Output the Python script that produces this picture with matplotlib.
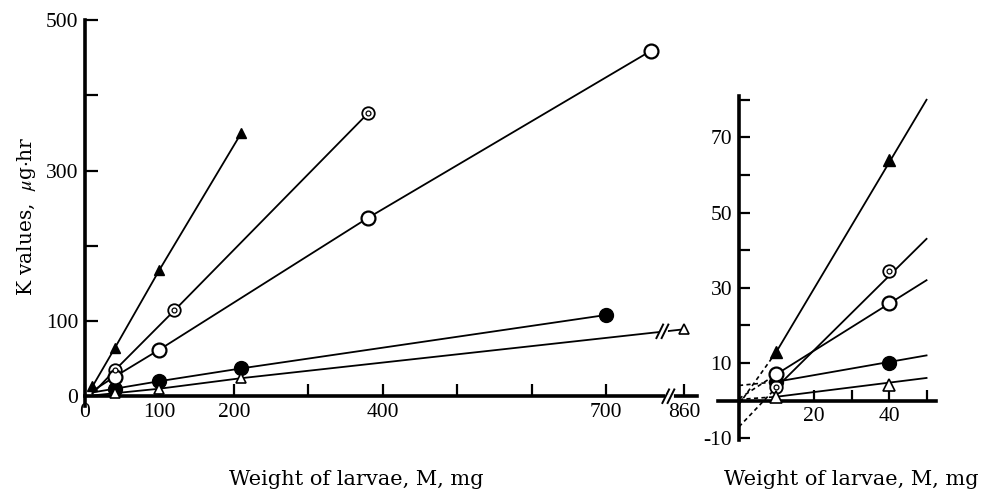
import numpy as np
import matplotlib
matplotlib.use("Agg")
import matplotlib.pyplot as plt

plt.rcParams['font.family'] = 'serif'
plt.rcParams['font.serif'] = ['Liberation Serif', 'DejaVu Serif']
plt.rcParams['mathtext.fontset'] = 'stix'

# K values (ug*hr) against larval weight M (mg)
tri_f_x = [10, 40, 100, 210]
tri_f_y = [13, 64, 168, 350]
dcirc_x = [10, 40, 120, 380]
dcirc_y = [3.5, 34.5, 114, 376]
ocirc_x = [10, 40, 100, 380, 760]
ocirc_y = [7, 26, 62, 237, 459]
fcirc_x = [10, 40, 100, 210, 700]
fcirc_y = [5, 10, 20, 37, 108]
tri_o_x = [10, 40, 100, 210, 860]
tri_o_y = [1, 4, 10, 24, 89]

# right panel: fitted lines drawn on to M = 50, dashed back to M = 0
ext_x = 50
ext_y = [80, 43, 32, 12, 6]          # tri_f, dcirc, ocirc, fcirc, tri_o
icpt_y = [-1, -7, 0.5, 4, 0.3]      # value where the dashed lines meet M = 0

left_xticks = [0, 100, 200, 300, 400, 500, 600, 700, 860]
left_xlabels = ['0', '100', '200', '', '400', '', '', '700', '860']
left_yticks = [0, 100, 200, 300, 400, 500]
left_ylabels = ['0', '100', '', '300', '', '500']
right_xticks = [10, 20, 30, 40, 50]
right_xlabels = ['', '20', '', '40', '']
right_yticks = [-10, 10, 20, 30, 40, 50, 60, 70, 80]
right_ylabels = ['-10', '10', '', '30', '', '50', '', '70', '']

BREAK = 780
SQUEEZE = 0.3125


def bx(x):
    # compress the x axis after the break
    x = np.asarray(x, dtype=float)
    return np.where(x > BREAK, BREAK + (x - BREAK) * SQUEEZE, x)


fig = plt.figure(figsize=(9.98, 4.92), dpi=100)
ax1 = fig.add_axes([0.0852, 0.1748, 0.6132, 0.7845])
ax2 = fig.add_axes([0.7194, 0.1057, 0.2184, 0.6992])

series = [
    (tri_f_x, tri_f_y, dict(marker='^', ms=7, mfc='black', mec='black')),
    (dcirc_x, dcirc_y, dict(marker='o', ms=9, mfc='white', mec='black', mew=1.3)),
    (ocirc_x, ocirc_y, dict(marker='o', ms=10, mfc='white', mec='black', mew=1.6)),
    (fcirc_x, fcirc_y, dict(marker='o', ms=10, mfc='black', mec='black')),
    (tri_o_x, tri_o_y, dict(marker='^', ms=7, mfc='white', mec='black', mew=1.2)),
]

# ---- left panel ----
for i, (xs, ys, mk) in enumerate(series):
    ax1.plot(bx(xs), ys, color='black', lw=1.3, zorder=2)
for i, (xs, ys, mk) in enumerate(series):
    z = 4 if mk['mfc'] == 'white' else 3
    # near the origin the marks are tiny; only the filled triangle shows
    start = 0 if i == 0 else 1
    ax1.plot(bx(xs[start:]), ys[start:], ls='none', zorder=z,
             clip_on=False, **mk)
    if i == 1:
        ax1.plot(bx(xs[start:]), ys[start:], ls='none', marker='o', ms=3.5,
                 mfc='white', mec='black', mew=0.9, zorder=5)

ax1.set_xlim(0, 822)
ax1.set_ylim(-13, 500)
for s in ['top', 'right']:
    ax1.spines[s].set_visible(False)
ax1.spines['bottom'].set_position(('data', 0))
ax1.spines['left'].set_linewidth(2.6)
ax1.spines['bottom'].set_linewidth(2.6)
ax1.set_xticks(bx(left_xticks))
ax1.set_xticklabels(left_xlabels)
ax1.set_yticks(left_yticks)
ax1.set_yticklabels(left_ylabels)
ax1.tick_params(direction='in', length=9, width=1.6, labelsize=15.5, pad=5)

# break marks on the x axis and on the open-triangle line
yb = np.interp(BREAK, bx(tri_o_x), tri_o_y)
for xc, yc in [(BREAK + 3, 0), (BREAK - 5, yb)]:
    ax1.plot([xc - 1, xc + 4], [yc, yc], color='white', lw=3.5,
             zorder=6, clip_on=False)
    for off in (-3, 4):
        ax1.plot([xc + off - 4.5, xc + off + 4.5], [yc - 9, yc + 9],
                 color='black', lw=1.4, zorder=7, clip_on=False)

# ---- right panel ----
for i, (xs, ys, mk) in enumerate(series):
    ax2.plot([xs[0], ext_x], [ys[0], ext_y[i]], color='black', lw=1.3, zorder=2)
    ax2.plot([0, xs[0]], [icpt_y[i], ys[0]], color='black', lw=1.2,
             ls=(0, (2.5, 2)), zorder=2)
for i, (xs, ys, mk) in enumerate(series):
    mk2 = dict(mk)
    mk2['ms'] = mk['ms'] + 2 if mk['marker'] == '^' else mk['ms']
    z = 4 if mk['mfc'] == 'white' else 3
    ax2.plot(xs[:2], ys[:2], ls='none', zorder=z, **mk2)
    if i == 1:
        ax2.plot(xs[:2], ys[:2], ls='none', marker='o', ms=3.5, mfc='white',
                 mec='black', mew=0.9, zorder=5)

ax2.set_xlim(-5.6, 52.5)
ax2.set_ylim(-10.5, 81)
for s in ['top', 'right']:
    ax2.spines[s].set_visible(False)
ax2.spines['bottom'].set_position(('data', 0))
ax2.spines['left'].set_position(('data', 0))
ax2.spines['left'].set_linewidth(2.6)
ax2.spines['bottom'].set_linewidth(2.6)
ax2.set_xticks(right_xticks)
ax2.set_xticklabels(right_xlabels)
ax2.set_yticks(right_yticks)
ax2.set_yticklabels(right_ylabels)
ax2.tick_params(direction='in', length=8, width=1.6, labelsize=15.5, pad=5)

fig.text(0.027, 0.561, 'K values,  $\\mu$g$\\cdot$hr', rotation=90,
         ha='center', va='center', fontsize=14.5, family='DejaVu Serif')
fig.text(0.357, 0.026, 'Weight of larvae, M, mg', ha='center', va='center',
         fontsize=15, family='DejaVu Serif')
fig.text(0.853, 0.026, 'Weight of larvae, M, mg', ha='center', va='center',
         fontsize=15, family='DejaVu Serif')

fig.savefig('out.png', dpi=100)
